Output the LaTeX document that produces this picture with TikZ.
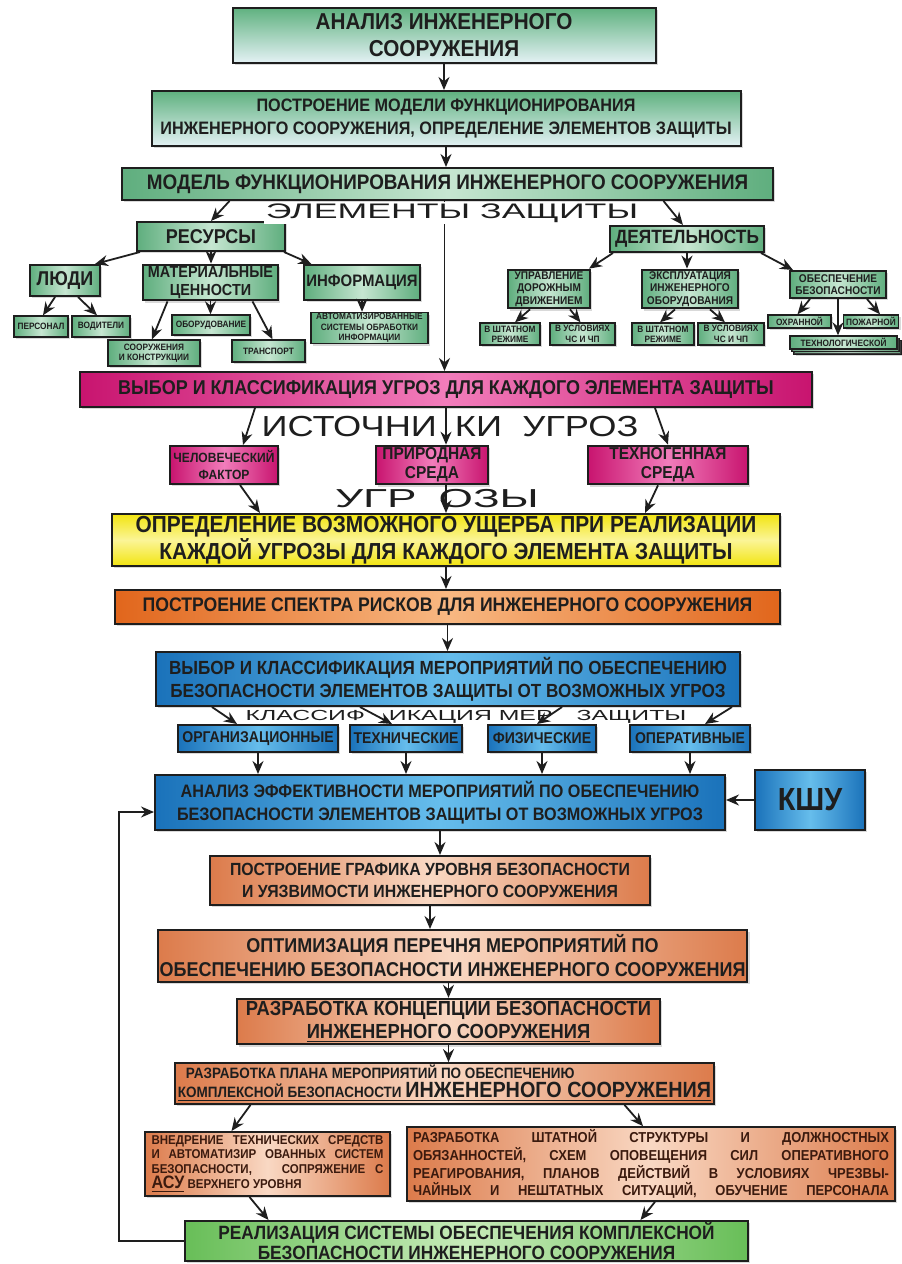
\documentclass[tikz,border=0pt]{standalone}
\usepackage{fontspec}
\setmainfont{Liberation Sans}[FakeStretch=0.9]
\newfontfamily\widefont{Liberation Sans}[FakeStretch=1.7]
\newfontfamily\midfont{Liberation Sans}[FakeStretch=1.25]
\usetikzlibrary{arrows.meta,shadows}

\definecolor{gtop}{HTML}{5FB17F}
\definecolor{gbot}{HTML}{E3F1F4}
\definecolor{gside}{HTML}{5FAE7E}
\definecolor{gmid}{HTML}{C6E6D1}
\definecolor{mside}{HTML}{C8146F}
\definecolor{mmid}{HTML}{F27DBB}
\definecolor{yside}{HTML}{F2E410}
\definecolor{ymid}{HTML}{FBF597}
\definecolor{oside}{HTML}{E1661C}
\definecolor{omid}{HTML}{F8B882}
\definecolor{bside}{HTML}{1A72BA}
\definecolor{bmid}{HTML}{66BDEC}
\definecolor{sside}{HTML}{DC7B4B}
\definecolor{smid}{HTML}{F9D8C3}
\definecolor{fside}{HTML}{68BE58}
\definecolor{fmid}{HTML}{C7EBB9}
\definecolor{ink}{HTML}{1E1E1E}
\definecolor{brown}{HTML}{3B1A0E}

\newcommand\fsz[2]{\fontsize{#1}{#2}\selectfont\bfseries}

\tikzset{
  box/.style={draw=ink, line width=1pt, align=center, inner sep=1pt, text=ink,
    drop shadow={shadow xshift=1.2pt, shadow yshift=-1.2pt, opacity=.3}},
  topbox/.style={box, top color=gtop, bottom color=gbot},
  greenbox/.style={box, left color=gside, right color=gside, middle color=gmid},
  tinybox/.style={greenbox, line width=0.7pt, inner sep=0.5pt, font=\fsz{4.6}{5.2}},
  pinkbox/.style={box, left color=mside, right color=mside, middle color=mmid},
  yellowbox/.style={box, top color=yside, bottom color=yside, middle color=ymid},
  orangebox/.style={box, left color=oside, right color=oside, middle color=omid},
  bluebox/.style={box, left color=bside, right color=bside, middle color=bmid},
  salmonbox/.style={box, left color=sside, right color=sside, middle color=smid},
  finalbox/.style={box, left color=fside, right color=fside, middle color=fmid},
  widelabel/.style={text=ink, inner sep=1pt}
}

\begin{document}
\begin{tikzpicture}[x=0.5pt, y=-0.5pt, >={Stealth[length=6.5pt,width=5.5pt]}, line width=0.9pt, draw=ink]
\useasboundingbox (0,0) rectangle (901,1264);

\node[topbox, minimum width=211.5pt, minimum height=27.5pt, font=\fsz{11.5}{13.5}] (anal) at (444,35) {АНАЛИЗ ИНЖЕНЕРНОГО\\СООРУЖЕНИЯ};
\node[topbox, minimum width=294.5pt, minimum height=27.5pt, font=\fsz{9}{11.5}] (postr) at (446,118.5) {ПОСТРОЕНИЕ МОДЕЛИ ФУНКЦИОНИРОВАНИЯ\\ИНЖЕНЕРНОГО СООРУЖЕНИЯ, ОПРЕДЕЛЕНИЕ ЭЛЕМЕНТОВ ЗАЩИТЫ};
\node[greenbox, minimum width=325.5pt, minimum height=16pt, font=\fsz{10.5}{12}] (model) at (447.5,184) {МОДЕЛЬ ФУНКЦИОНИРОВАНИЯ ИНЖЕНЕРНОГО СООРУЖЕНИЯ};

\node[greenbox, minimum width=74pt, minimum height=14.5pt, font=\fsz{10}{12}] (res) at (211,236.5) {РЕСУРСЫ};
\node[greenbox, minimum width=35pt, minimum height=15.5pt, font=\fsz{10}{12}] (lyudi) at (65,280.5) {ЛЮДИ};
\node[greenbox, minimum width=67.5pt, minimum height=17.5pt, font=\fsz{8}{8.8}] (mat) at (210.5,282.5) {МАТЕРИАЛЬНЫЕ\\ЦЕННОСТИ};
\node[greenbox, minimum width=56pt, minimum height=17.5pt, font=\fsz{8.3}{10}] (inf) at (362,282.5) {ИНФОРМАЦИЯ};
\node[greenbox, minimum width=77pt, minimum height=13pt, font=\fsz{9.6}{11}] (deyat) at (687,239) {ДЕЯТЕЛЬНОСТЬ};
\node[greenbox, minimum width=41pt, minimum height=18pt, font=\fsz{5.6}{6.2}] (upr) at (549,289) {УПРАВЛЕНИЕ\\ДОРОЖНЫМ\\ДВИЖЕНИЕМ};
\node[greenbox, minimum width=48pt, minimum height=18pt, font=\fsz{5.6}{6.2}] (eksp) at (690,289) {ЭКСПЛУАТАЦИЯ\\ИНЖЕНЕРНОГО\\ОБОРУДОВАНИЯ};
\node[greenbox, minimum width=48pt, minimum height=13.5pt, font=\fsz{5.6}{6.2}] (obesp) at (838,284.5) {ОБЕСПЕЧЕНИЕ\\БЕЗОПАСНОСТИ};

\node[tinybox, minimum width=27pt, minimum height=10.5pt] (pers) at (41,326.5) {ПЕРСОНАЛ};
\node[tinybox, minimum width=29pt, minimum height=10.5pt] (vod) at (101,326.5) {ВОДИТЕЛИ};
\node[tinybox, minimum width=39pt, minimum height=10pt] (obor) at (211,325) {ОБОРУДОВАНИЕ};
\node[tinybox, minimum width=46pt, minimum height=13pt] (soor) at (154,353) {СООРУЖЕНИЯ\\И КОНСТРУКЦИИ};
\node[tinybox, minimum width=36.5pt, minimum height=11pt] (trans) at (268.5,351) {ТРАНСПОРТ};
\node[tinybox, minimum width=58.5pt, minimum height=15pt] (avt) at (369.5,328) {АВТОМАТИЗИРОВАННЫЕ\\СИСТЕМЫ ОБРАБОТКИ\\ИНФОРМАЦИИ};
\node[tinybox, minimum width=30pt, minimum height=11pt] (sht1) at (510,334) {В ШТАТНОМ\\РЕЖИМЕ};
\node[tinybox, minimum width=32.5pt, minimum height=11pt] (usl1) at (582.5,334) {В УСЛОВИЯХ\\ЧС И ЧП};
\node[tinybox, minimum width=31pt, minimum height=11pt] (sht2) at (663,334) {В ШТАТНОМ\\РЕЖИМЕ};
\node[tinybox, minimum width=33pt, minimum height=11pt] (usl2) at (731,334) {В УСЛОВИЯХ\\ЧС И ЧП};
\node[tinybox, minimum width=31.5pt, minimum height=6.5pt] (ohr) at (799.5,321.5) {ОХРАННОЙ};
\node[tinybox, minimum width=27.5pt, minimum height=6.5pt] (pozh) at (871,321.5) {ПОЖАРНОЙ};
\node[tinybox, drop shadow/.style={}, minimum width=53.5pt, minimum height=6.5pt] (tehnC) at (847.5,347.5) {};
\node[tinybox, drop shadow/.style={}, minimum width=53.5pt, minimum height=6.5pt] (tehnB) at (845.5,345) {};
\node[tinybox, minimum width=53.5pt, minimum height=6.5pt] (tehn) at (843.5,342.5) {ТЕХНОЛОГИЧЕСКОЙ};

\node[pinkbox, minimum width=366pt, minimum height=17.5pt, font=\fsz{10}{12}] (ugroz) at (446,389.5) {ВЫБОР И КЛАССИФИКАЦИЯ УГРОЗ ДЛЯ КАЖДОГО ЭЛЕМЕНТА ЗАЩИТЫ};
\node[pinkbox, minimum width=54pt, minimum height=19pt, font=\fsz{6.7}{8.6}] (chel) at (224,465) {ЧЕЛОВЕЧЕСКИЙ\\ФАКТОР};
\node[pinkbox, minimum width=56pt, minimum height=19pt, font=\fsz{8.6}{9.6}] (prir) at (432,465) {ПРИРОДНАЯ\\СРЕДА};
\node[pinkbox, minimum width=80pt, minimum height=19pt, font=\fsz{8.6}{9.6}] (tehg) at (668,465) {ТЕХНОГЕННАЯ\\СРЕДА};

\node[yellowbox, minimum width=334pt, minimum height=26pt, font=\fsz{11.6}{13.5}] (uscherb) at (446,540) {ОПРЕДЕЛЕНИЕ ВОЗМОЖНОГО УЩЕРБА ПРИ РЕАЛИЗАЦИИ\\КАЖДОЙ УГРОЗЫ ДЛЯ КАЖДОГО ЭЛЕМЕНТА ЗАЩИТЫ};
\node[orangebox, minimum width=332.5pt, minimum height=17pt, font=\fsz{9.8}{11}] (spektr) at (447.5,607) {ПОСТРОЕНИЕ СПЕКТРА РИСКОВ ДЛЯ ИНЖЕНЕРНОГО СООРУЖЕНИЯ};
\node[bluebox, minimum width=292pt, minimum height=27pt, font=\fsz{9.5}{11.5}] (vybor) at (448,679) {ВЫБОР И КЛАССИФИКАЦИЯ МЕРОПРИЯТИЙ ПО ОБЕСПЕЧЕНИЮ\\БЕЗОПАСНОСТИ ЭЛЕМЕНТОВ ЗАЩИТЫ ОТ ВОЗМОЖНЫХ УГРОЗ};

\node[bluebox, minimum width=80pt, minimum height=13.5pt, font=\fsz{7.8}{9}] (org) at (258,738.5) {ОРГАНИЗАЦИОННЫЕ};
\node[bluebox, minimum width=56pt, minimum height=13.5pt, font=\fsz{7.8}{9}] (teh) at (406,738.5) {ТЕХНИЧЕСКИЕ};
\node[bluebox, minimum width=54pt, minimum height=13.5pt, font=\fsz{7.8}{9}] (fiz) at (542,738.5) {ФИЗИЧЕСКИЕ};
\node[bluebox, minimum width=60pt, minimum height=13.5pt, font=\fsz{7.8}{9}] (oper) at (690,738.5) {ОПЕРАТИВНЫЕ};

\node[bluebox, minimum width=285pt, minimum height=27.5pt, font=\fsz{9}{11.5}] (effekt) at (440,802.5) {АНАЛИЗ ЭФФЕКТИВНОСТИ МЕРОПРИЯТИЙ ПО ОБЕСПЕЧЕНИЮ\\БЕЗОПАСНОСТИ ЭЛЕМЕНТОВ ЗАЩИТЫ ОТ ВОЗМОЖНЫХ УГРОЗ};
\node[bluebox, minimum width=55pt, minimum height=30pt, font=\fsz{16}{18}] (kshu) at (810,800) {КШУ};

\node[salmonbox, minimum width=220pt, minimum height=24.5pt, font=\fsz{8.8}{11}] (grafik) at (430,880.5) {ПОСТРОЕНИЕ ГРАФИКА УРОВНЯ БЕЗОПАСНОСТИ\\И УЯЗВИМОСТИ ИНЖЕНЕРНОГО СООРУЖЕНИЯ};
\node[salmonbox, minimum width=292.5pt, minimum height=26pt, font=\fsz{10}{12}] (optim) at (452.5,956) {ОПТИМИЗАЦИЯ ПЕРЕЧНЯ МЕРОПРИЯТИЙ ПО\\ОБЕСПЕЧЕНИЮ БЕЗОПАСНОСТИ ИНЖЕНЕРНОГО СООРУЖЕНИЯ};
\node[salmonbox, minimum width=211.5pt, minimum height=18.5pt, font=\fsz{10.2}{11.5}] (konc) at (448.5,1021.5) {РАЗРАБОТКА КОНЦЕПЦИИ БЕЗОПАСНОСТИ\\\underline{ИНЖЕНЕРНОГО СООРУЖЕНИЯ}};
\node[salmonbox, minimum width=269.5pt, minimum height=18.5pt, align=left, font=\fsz{7.5}{9.5}] (plan) at (444.5,1083.5) {\hspace*{4pt}РАЗРАБОТКА ПЛАНА МЕРОПРИЯТИЙ ПО ОБЕСПЕЧЕНИЮ\\\underline{КОМПЛЕКСНОЙ БЕЗОПАСНОСТИ {\fsz{11}{9.5}ИНЖЕНЕРНОГО СООРУЖЕНИЯ}}};
\node[salmonbox, minimum width=122.5pt, minimum height=32pt, align=left, text=brown, font=\fsz{6.4}{7.4}] (vnedr) at (267.5,1164) {\makebox[116pt][s]{ВНЕДРЕНИЕ ТЕХНИЧЕСКИХ СРЕДСТВ}\\\makebox[116pt][s]{И АВТОМАТИЗИР ОВАННЫХ СИСТЕМ}\\\makebox[116pt][s]{БЕЗОПАСНОСТИ, \ \ СОПРЯЖЕНИЕ С}\\{\fsz{9}{9}\underline{АСУ}} ВЕРХНЕГО УРОВНЯ};
\node[salmonbox, minimum width=244pt, minimum height=32pt, align=left, text=brown, font=\fsz{7.2}{7.6}] (razr) at (651,1164) {\makebox[238pt][s]{РАЗРАБОТКА ШТАТНОЙ СТРУКТУРЫ И ДОЛЖНОСТНЫХ}\\\makebox[238pt][s]{ОБЯЗАННОСТЕЙ, СХЕМ ОПОВЕЩЕНИЯ СИЛ ОПЕРАТИВНОГО}\\\makebox[238pt][s]{РЕАГИРОВАНИЯ, ПЛАНОВ ДЕЙСТВИЙ В УСЛОВИЯХ ЧРЕЗВЫ-}\\\makebox[238pt][s]{ЧАЙНЫХ И НЕШТАТНЫХ СИТУАЦИЙ, ОБУЧЕНИЕ ПЕРСОНАЛА}};
\node[finalbox, minimum width=281.5pt, minimum height=20pt, inner sep=0pt, font=\fsz{9.6}{10.2}] (real) at (466.5,1241) {РЕАЛИЗАЦИЯ СИСТЕМЫ ОБЕСПЕЧЕНИЯ КОМПЛЕКСНОЙ\\БЕЗОПАСНОСТИ ИНЖЕНЕРНОГО СООРУЖЕНИЯ};

\draw[->] (anal.south) -- (anal.south |- postr.north);
\draw[->] (postr.south) -- (postr.south |- model.north);
\draw[->] ([xshift=-109pt]model.south) -- (res.north);
\draw[->] ([xshift=108pt]model.south) -- ([xshift=-2pt]deyat.north);
\draw[->] ([xshift=-1.5pt]model.south) -- ([xshift=-1.5pt]model.south |- ugroz.north);
\node[widelabel, fill=white, font=\widefont\fontsize{10.5}{12}\selectfont] (elem) at (452,213) {ЭЛЕМЕНТЫ ЗАЩИТЫ};

\draw[->] ([xshift=2pt]res.south west) -- ([xshift=-3pt]lyudi.north east);
\draw[->] (res.south) -- (res.south |- mat.north);
\draw[->] ([xshift=-1pt]res.south east) -- ([xshift=4pt]inf.north west);
\draw[->] ([xshift=-5pt]lyudi.south) -- ([xshift=1pt]pers.north);
\draw[->] ([xshift=6.5pt]lyudi.south) -- ([xshift=-2pt]vod.north);
\draw[->] (mat.south) -- (mat.south |- obor.north);
\draw[->] ([xshift=-21.5pt]mat.south) -- ([xshift=-1pt]soor.north);
\draw[->] ([xshift=21pt]mat.south) -- ([xshift=2pt]trans.north);
\draw[->] (inf.south) -- (inf.south |- avt.north);

\draw[->] ([xshift=2pt]deyat.south west) -- ([xshift=-1pt]upr.north east);
\draw[->] (deyat.south) -- (deyat.south |- eksp.north);
\draw[->] ([xshift=-2pt]deyat.south east) -- ([xshift=2pt]obesp.north west);
\draw[->] ([xshift=-9.5pt]upr.south) -- ([xshift=2.5pt]sht1.north);
\draw[->] ([xshift=10.5pt]upr.south) -- ([xshift=-1pt]usl1.north);
\draw[->] ([xshift=-7.5pt]eksp.south) -- ([xshift=-1.5pt]sht2.north);
\draw[->] ([xshift=10pt]eksp.south) -- ([xshift=-3pt]usl2.north);
\draw[->] ([xshift=-14pt]obesp.south) -- ([xshift=-1pt]ohr.north);
\draw[->] ([xshift=14.5pt]obesp.south) -- ([xshift=4.5pt]pozh.north);
\draw[->] (obesp.south) -- (obesp.south |- tehn.north);

\draw[->] ([xshift=-95.5pt]ugroz.south) -- ([xshift=9.5pt]chel.north);
\draw[->] (ugroz.south) -- (ugroz.south |- prir.north);
\draw[->] ([xshift=104.5pt]ugroz.south) -- (tehg.north);
\node[widelabel, font=\midfont\fontsize{14.5}{16}\selectfont] (istoch) at (450,427) {ИСТОЧНИ\hspace{9pt}КИ\ \ УГРОЗ};

\draw[->] ([xshift=8pt]chel.south) -- ([xshift=-93pt]uscherb.north);
\draw[->] (uscherb.north |- prir.south) -- (uscherb.north);
\draw[->] ([xshift=-5pt]tehg.south) -- ([xshift=99.5pt]uscherb.north);
\node[widelabel, font=\widefont\fontsize{13}{15}\selectfont] (ugr) at (437,499) {УГР\hspace{11pt}ОЗЫ};

\draw[->] (uscherb.south) -- (uscherb.south |- spektr.north);
\draw[->] (spektr.south) -- (spektr.south |- vybor.north);

\draw[->] ([xshift=-118pt]vybor.south) -- ([xshift=-10.5pt]org.north);
\draw[->] ([xshift=-44pt]vybor.south) -- ([xshift=-7pt]teh.north);
\draw[->] ([xshift=57pt]vybor.south) -- ([xshift=-2.5pt]fiz.north);
\draw[->] ([xshift=142pt]vybor.south) -- ([xshift=7.5pt]oper.north);
\node[widelabel, font=\widefont\fontsize{7.3}{8}\selectfont] (klass) at (466,716.5) {КЛАССИФ\hspace{12pt}ИКАЦИЯ МЕР\hspace{12pt}ЗАЩИТЫ};

\draw[->] (org.south) -- (org.south |- effekt.north);
\draw[->] (teh.south) -- (teh.south |- effekt.north);
\draw[->] (fiz.south) -- (fiz.south |- effekt.north);
\draw[->] (oper.south) -- (oper.south |- effekt.north);
\draw[->] (kshu.west) -- (kshu.west -| effekt.east);

\draw[->] (effekt.south) -- (effekt.south |- grafik.north);
\draw[->] (grafik.south) -- (grafik.south |- optim.north);
\draw[->] (konc.north |- optim.south) -- (konc.north);
\draw[->] (konc.south) -- (konc.south |- plan.north);
\draw[->] ([xshift=-97pt]plan.south) -- ([xshift=-18pt]vnedr.north);
\draw[->] ([xshift=90pt]plan.south) -- ([xshift=-4pt]razr.north);
\draw[->] ([xshift=-9pt]vnedr.south) -- ([xshift=-99pt]real.north);
\draw[->] ([xshift=2pt]razr.south) -- ([xshift=87pt]real.north);
\draw[->] (real.west) -| ([xshift=-17.5pt,yshift=-4.75pt]effekt.west) -- ([yshift=-4.75pt]effekt.west);
\end{tikzpicture}
\end{document}
